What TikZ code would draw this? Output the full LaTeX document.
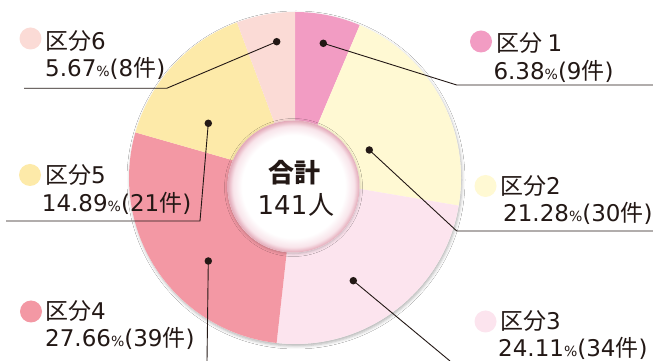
\documentclass[tikz,border=0pt]{standalone}
\usepackage{fontspec}
\setmainfont{DejaVu Sans}
\newfontfamily\cjk{Noto Sans CJK JP}
\usetikzlibrary{shadows.blur}
\definecolor{tx}{HTML}{231815}
\definecolor{cA}{HTML}{F29CC3}
\definecolor{cB}{HTML}{FFF9D3}
\definecolor{cC}{HTML}{FCE4EE}
\definecolor{cD}{HTML}{F398A4}
\definecolor{cE}{HTML}{FDEAA9}
\definecolor{cF}{HTML}{FBDBD6}
\definecolor{ringpink}{HTML}{E3A9B8}
\definecolor{ringmid}{HTML}{F8E4EA}
\pgfdeclareradialshading{innerglow}{\pgfpoint{0bp}{0bp}}{color(0bp)=(white); color(19.5bp)=(white); color(23bp)=(ringmid); color(25bp)=(ringpink); color(50bp)=(ringpink)}
\newcommand{\mypct}{{\fontsize{14}{14}\selectfont\%}}
\tikzset{
  lead/.style={draw=tx, line width=0.9pt},
  dotc/.style={circle, fill=tx, inner sep=0pt, minimum size=7.5pt},
  ldot/.style={circle, inner sep=0pt, minimum size=22pt},
  ltitle/.style={anchor=base west, inner sep=0pt, text=tx, font=\fontsize{23}{28}\selectfont},
  lval/.style={anchor=base west, inner sep=0pt, text=tx, font=\fontsize{23}{28}\selectfont},
  ctext/.style={anchor=base, inner sep=0pt, text=tx, font=\fontsize{26}{30}\selectfont},
}
\begin{document}
\begin{tikzpicture}[x=1pt,y=1pt]
\useasboundingbox (0,0) rectangle (653,361);
\fill[white] (0,0) rectangle (653,361);
\coordinate (C) at (295,183);
\coordinate (IC) at (293.5,174.5);
% pie shadow
\fill[white, blur shadow={shadow xshift=1pt, shadow yshift=-2pt, shadow blur radius=3pt, shadow opacity=30}] (C) circle (166);
% slices
\fill[cA] (C) -- +(90:166) arc[start angle=90, end angle=67.03, radius=166] -- cycle;
\fill[cB] (C) -- +(67.03:166) arc[start angle=67.03, end angle=-9.58, radius=166] -- cycle;
\fill[cC] (C) -- +(-9.58:166) arc[start angle=-9.58, end angle=-96.37, radius=166] -- cycle;
\fill[cD] (C) -- +(-96.37:166) arc[start angle=-96.37, end angle=-195.95, radius=166] -- cycle;
\fill[cE] (C) -- +(-195.95:166) arc[start angle=-195.95, end angle=-249.55, radius=166] -- cycle;
\fill[cF] (C) -- +(-249.55:166) arc[start angle=-249.55, end angle=-270, radius=166] -- cycle;
% inner circle
\fill[white, blur shadow={shadow xshift=0pt, shadow yshift=-1pt, shadow blur radius=3pt, shadow opacity=25}] (IC) circle (66);
\shade[shading=innerglow] (IC) circle (66);
\node[ctext] (tot1) at (294,178) {\cjk\bfseries 合計};
\node[ctext] (tot2) at (296,146) {141\kern1pt{\cjk 人}};
% pointer dots
\node[dotc] (d1) at (323.3,317.7) {};
\node[dotc] (d2) at (369.3,211) {};
\node[dotc] (d3) at (353.3,80.3) {};
\node[dotc] (d4) at (208.3,100) {};
\node[dotc] (d5) at (208.3,237.7) {};
\node[dotc] (d6) at (276.7,319.3) {};
% leader corners and ends
\coordinate (k1) at (456.7,276); \coordinate (e1) at (653,276);
\coordinate (k2) at (456.7,130); \coordinate (e2) at (653,130);
\coordinate (e3) at (450,0);
\coordinate (e4) at (207,0);
\coordinate (k5) at (200,140); \coordinate (e5) at (6,140);
\coordinate (k6) at (166.7,272.7); \coordinate (e6) at (24,272.7);
\draw[lead] (d1.center) -- (k1) -- (e1);
\draw[lead] (d2.center) -- (k2) -- (e2);
\draw[lead] (d3.center) -- (e3);
\draw[lead] (d4.center) -- (e4);
\draw[lead] (d5.center) -- (k5) -- (e5);
\draw[lead] (d6.center) -- (k6) -- (e6);
% legend dots
\node[ldot, fill=cA] (m1) at (481,319.5) {};
\node[ldot, fill=cB] (m2) at (485.5,175) {};
\node[ldot, fill=cC] (m3) at (485.5,39.5) {};
\node[ldot, fill=cD] (m4) at (31,49.5) {};
\node[ldot, fill=cE] (m5) at (30,186) {};
\node[ldot, fill=cF] (m6) at (30.5,322.5) {};
% legend texts
\node[ltitle] (t1) at (496.7,309.3) {{\cjk 区分}\hspace{0.2em}1};
\node[lval] (v1) at (493.3,281) {6.38\mypct(9{\cjk 件})};
\node[ltitle] (t2) at (500,166) {{\cjk 区分}2};
\node[lval] (v2) at (503,139.3) {21.28\mypct(30{\cjk 件})};
\node[ltitle] (t3) at (500,31) {{\cjk 区分}3};
\node[lval] (v3) at (498,4.3) {24.11\mypct(34{\cjk 件})};
\node[ltitle] (t4) at (45,41.7) {{\cjk 区分}4};
\node[lval] (v4) at (45,14.3) {27.66\mypct(39{\cjk 件})};
\node[ltitle] (t5) at (45,177.7) {{\cjk 区分}5};
\node[lval] (v5) at (41.7,149.3) {14.89\mypct(21{\cjk 件})};
\node[ltitle] (t6) at (45,311) {{\cjk 区分}6};
\node[lval] (v6) at (45,284.3) {5.67\mypct(8{\cjk 件})};
\end{tikzpicture}
\end{document}
